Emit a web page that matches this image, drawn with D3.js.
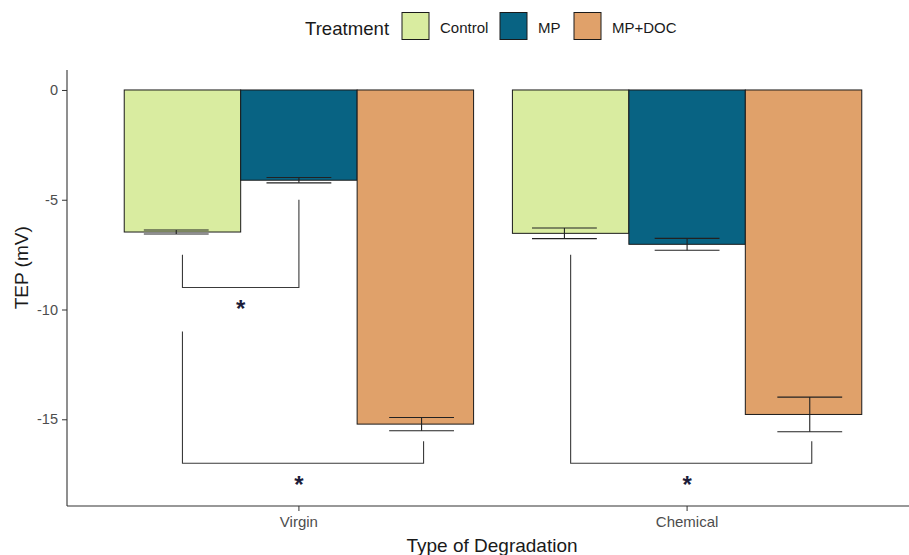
<!DOCTYPE html>
<html>
<head>
<meta charset="utf-8">
<script src="https://cdn.jsdelivr.net/npm/d3@7/dist/d3.min.js"></script>
<style>
  html, body { margin: 0; padding: 0; background: #fff; }
  svg { display: block; font-family: "Liberation Sans", Arial, sans-serif; }
</style>
</head>
<body>
<svg id="chart" width="909" height="555"></svg>
<script>
// TEP by type of degradation and treatment (mean ± SE)
const categories = ["Virgin", "Chemical"];
const treatments = ["Control", "MP", "MP+DOC"];
const meanVirgin = [-6.47, -4.11, -15.22];
const seVirgin = [0.09, 0.12, 0.30];
const meanChemical = [-6.53, -7.03, -14.78];
const seChemical = [0.24, 0.27, 0.79];
const yTicks = [0, -5, -10, -15];
const colors = ["#d9eca0", "#086383", "#e0a16a"];

// significance brackets: group, start/end treatment, left/right leg tops, bar level, star
const bracketGroup = ["Virgin", "Virgin", "Chemical"];
const bracketFrom = ["Control", "Control", "Control"];
const bracketTo = ["MP", "MP+DOC", "MP+DOC"];
const bracketLeftTop = [-7.5, -11, -7.5];
const bracketRightTop = [-5, -16, -16];
const bracketLevel = [-9, -17, -17];
const starLevel = [-10.35, -18.35, -18.35];
const starLabel = ["*", "*", "*"];

const svg = d3.select("#chart");
const margin = { left: 66, right: 920, top: 70, bottom: 506 };

const x = d3.scaleBand()
  .domain(categories)
  .range([margin.left, margin.right])
  .paddingInner(0.1)
  .paddingOuter(0.15);

const xInner = d3.scaleBand()
  .domain(treatments)
  .range([0, x.bandwidth()]);

const y = d3.scaleLinear()
  .domain([-18.95, 0.91])
  .range([margin.bottom, margin.top]);

const color = d3.scaleOrdinal().domain(treatments).range(colors);

const rows = [];
categories.forEach((c, gi) => {
  const m = gi === 0 ? meanVirgin : meanChemical;
  const s = gi === 0 ? seVirgin : seChemical;
  treatments.forEach((t, ti) => rows.push({ cat: c, trt: t, ti, mean: m[ti], se: s[ti] }));
});

const groupCenter = c => x(c) + x.bandwidth() / 2;
const barCenter = d => x(d.cat) + xInner(d.trt) + xInner.bandwidth() / 2;
// error bars are dodged slightly wider than the bars
const errCenter = d => groupCenter(d.cat) + (d.ti - 1) * x.step() * 0.316;
const errHalf = x.step() * 0.0835;

// bars
svg.append("g").selectAll("rect")
  .data(rows)
  .join("rect")
  .attr("x", d => x(d.cat) + xInner(d.trt))
  .attr("width", xInner.bandwidth())
  .attr("y", y(0))
  .attr("height", d => y(d.mean) - y(0))
  .attr("fill", d => color(d.trt))
  .attr("stroke", "#1a1a1a")
  .attr("stroke-width", 1);

// error bars
const eb = svg.append("g").attr("stroke", "#222").attr("stroke-width", 1.1).attr("fill", "none");
rows.forEach(d => {
  const cx = errCenter(d);
  const yt = y(d.mean + d.se), yb = y(d.mean - d.se);
  eb.append("line").attr("x1", cx - errHalf).attr("x2", cx + errHalf).attr("y1", yt).attr("y2", yt);
  eb.append("line").attr("x1", cx - errHalf).attr("x2", cx + errHalf).attr("y1", yb).attr("y2", yb);
  eb.append("line").attr("x1", cx).attr("x2", cx).attr("y1", yt).attr("y2", yb);
});

// significance brackets
const br = svg.append("g").attr("stroke", "#3a3a3a").attr("stroke-width", 1.1).attr("fill", "none");
bracketGroup.forEach((g, i) => {
  const fromRow = rows.find(r => r.cat === g && r.trt === bracketFrom[i]);
  const toRow = rows.find(r => r.cat === g && r.trt === bracketTo[i]);
  const x1 = barCenter(fromRow);
  const x2 = bracketTo[i] === "MP+DOC" ? errCenter(toRow) + 2 : barCenter(toRow);
  br.append("path")
    .attr("d", `M${x1},${y(bracketLeftTop[i])}V${y(bracketLevel[i])}H${x2}V${y(bracketRightTop[i])}`);
  svg.append("text")
    .attr("x", (x1 + x2) / 2 - (bracketTo[i] === "MP+DOC" ? 4 : 0))
    .attr("y", y(starLevel[i]))
    .attr("text-anchor", "middle")
    .attr("font-size", 24)
    .attr("font-weight", "bold")
    .attr("fill", "#1d1d3a")
    .text(starLabel[i]);
});

// axes
const tickFont = "'Liberation Sans', Arial, sans-serif";
const yAxis = d3.axisLeft(y).tickValues(yTicks).tickSize(5).tickPadding(4).tickFormat(d => String(d));
const gy = svg.append("g").attr("transform", `translate(${margin.left + 1},0)`).call(yAxis);
gy.select(".domain").attr("d", `M0,${margin.top}V${margin.bottom}`).attr("stroke", "#333").attr("stroke-width", 1.1);
gy.selectAll(".tick line").attr("stroke", "#333");
gy.selectAll(".tick text").attr("fill", "#4d4d4d").attr("font-size", 14.5).attr("font-family", tickFont);

const xAxis = d3.axisBottom(x).tickSize(5).tickPadding(5);
const gx = svg.append("g").attr("transform", `translate(0,${margin.bottom})`).call(xAxis);
gx.select(".domain").attr("d", `M${margin.left + 1},0H909`).attr("stroke", "#333").attr("stroke-width", 1.1);
gx.selectAll(".tick line").attr("stroke", "#333");
gx.selectAll(".tick text").attr("fill", "#4d4d4d").attr("font-size", 15).attr("font-family", tickFont);

// axis titles
svg.append("text")
  .attr("transform", `translate(28,${y(-8.1)}) rotate(-90)`)
  .attr("text-anchor", "middle")
  .attr("font-size", 19)
  .attr("fill", "#1a1a1a")
  .text("TEP (mV)");

svg.append("text")
  .attr("x", 492)
  .attr("y", 552)
  .attr("text-anchor", "middle")
  .attr("font-size", 19)
  .attr("fill", "#1a1a1a")
  .text("Type of Degradation");

// legend
const legend = svg.append("g");
legend.append("text")
  .attr("x", 305).attr("y", 35)
  .attr("font-size", 18.6)
  .attr("fill", "#1a1a1a")
  .text("Treatment");
const keyX = [402, 500, 574];
treatments.forEach((t, i) => {
  legend.append("rect")
    .attr("x", keyX[i]).attr("y", 12.5)
    .attr("width", 27).attr("height", 27)
    .attr("fill", color(t))
    .attr("stroke", "#1a1a1a").attr("stroke-width", 1);
  legend.append("text")
    .attr("x", keyX[i] + 38).attr("y", 32.5)
    .attr("font-size", 15)
    .attr("fill", "#1a1a1a")
    .text(t);
});
</script>
</body>
</html>
